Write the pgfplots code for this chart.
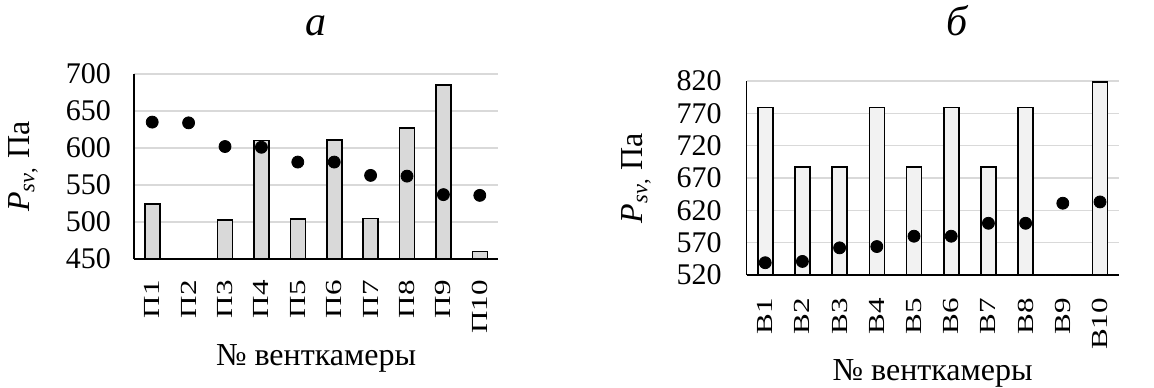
\documentclass[border=0pt]{standalone}
\usepackage{pgfplots}
\pgfplotsset{compat=1.18}
\usepackage{fontspec}
\setmainfont{Liberation Serif}
\newfontfamily\rotfont[FakeStretch=1.35]{Liberation Serif}
\definecolor{gridc}{HTML}{D9D9D9}
\definecolor{barA}{HTML}{D9D9D9}
\definecolor{barB}{HTML}{F2F2F2}
\pgfplotsset{
  common/.style={
    scale only axis,
    axis lines=left,
    axis line style={-, black, line width=0.8pt},
    xmin=0.5, xmax=10.5,
    xtick={1,2,3,4,5,6,7,8,9,10},
    major tick length=0pt,
    ymajorgrids,
    grid style={gridc, line width=0.8pt},
    enlarge y limits=false,
    /pgf/number format/assume math mode=true,
    tick label style={font=\fontsize{15}{15}\selectfont},
    xticklabel style={rotate=90, anchor=east, font=\rotfont\fontsize{11.5}{11.5}\selectfont},
    label style={font=\fontsize{16}{16}\selectfont},
    title style={font=\fontsize{21}{21}\selectfont\itshape, anchor=base, yshift=0pt},
    xlabel={№ венткамеры},
    ylabel={\textit{P}\textsubscript{\textit{sv},} Па},
  }
}
\begin{document}
\begin{tikzpicture}
\useasboundingbox (0,0) rectangle (577pt,193.5pt);
\begin{axis}[common,
  at={(67pt,64pt)}, anchor=south west,
  width=182pt, height=92.5pt,
  ymin=450, ymax=700, ytick={450,500,550,600,650,700},
  xticklabels={П1,П2,П3,П4,П5,П6,П7,П8,П9,П10},
  xticklabel shift=7pt,
  yticklabel shift=8pt,
  ylabel style={at={(axis description cs:-0.305,0.5)}, rotate=0, anchor=center},
  xlabel style={at={(axis description cs:0.5,-0.535)}, anchor=center},
  title={а},
  title style={at={(axis description cs:0.5,1.144)}},
]
\addplot[ybar, bar width=7.5pt, bar shift=0pt, fill=barA, draw=black, line width=0.8pt]
  coordinates {(1,524) (2,450) (3,503) (4,610) (5,504) (6,611) (7,505) (8,627) (9,685) (10,460)};
\addplot[only marks, mark=*, mark size=3pt, black]
  coordinates {(1,635) (2,634) (3,602) (4,601) (5,581) (6,581) (7,563) (8,562) (9,537) (10,536)};
\end{axis}
\begin{axis}[common,
  at={(373.3pt,56pt)}, anchor=south west,
  width=186pt, height=97pt,
  ymin=520, ymax=820, ytick={520,570,620,670,720,770,820},
  xticklabels={В1,В2,В3,В4,В5,В6,В7,В8,В9,В10},
  xticklabel shift=8pt,
  yticklabel shift=9pt,
  ylabel style={at={(axis description cs:-0.297,0.5)}, rotate=0, anchor=center},
  xlabel style={at={(axis description cs:0.5,-0.505)}, anchor=center},
  title={б},
  title style={at={(axis description cs:0.566,1.175)}},
]
\addplot[ybar, bar width=7.5pt, bar shift=0pt, fill=barB, draw=black, line width=0.8pt]
  coordinates {(1,779) (2,687) (3,687) (4,779) (5,687) (6,779) (7,687) (8,779) (9,520) (10,818)};
\addplot[only marks, mark=*, mark size=3pt, black]
  coordinates {(1,539) (2,541) (3,562) (4,564) (5,580) (6,580) (7,600) (8,600) (9,631) (10,633)};
\end{axis}
\end{tikzpicture}
\end{document}
